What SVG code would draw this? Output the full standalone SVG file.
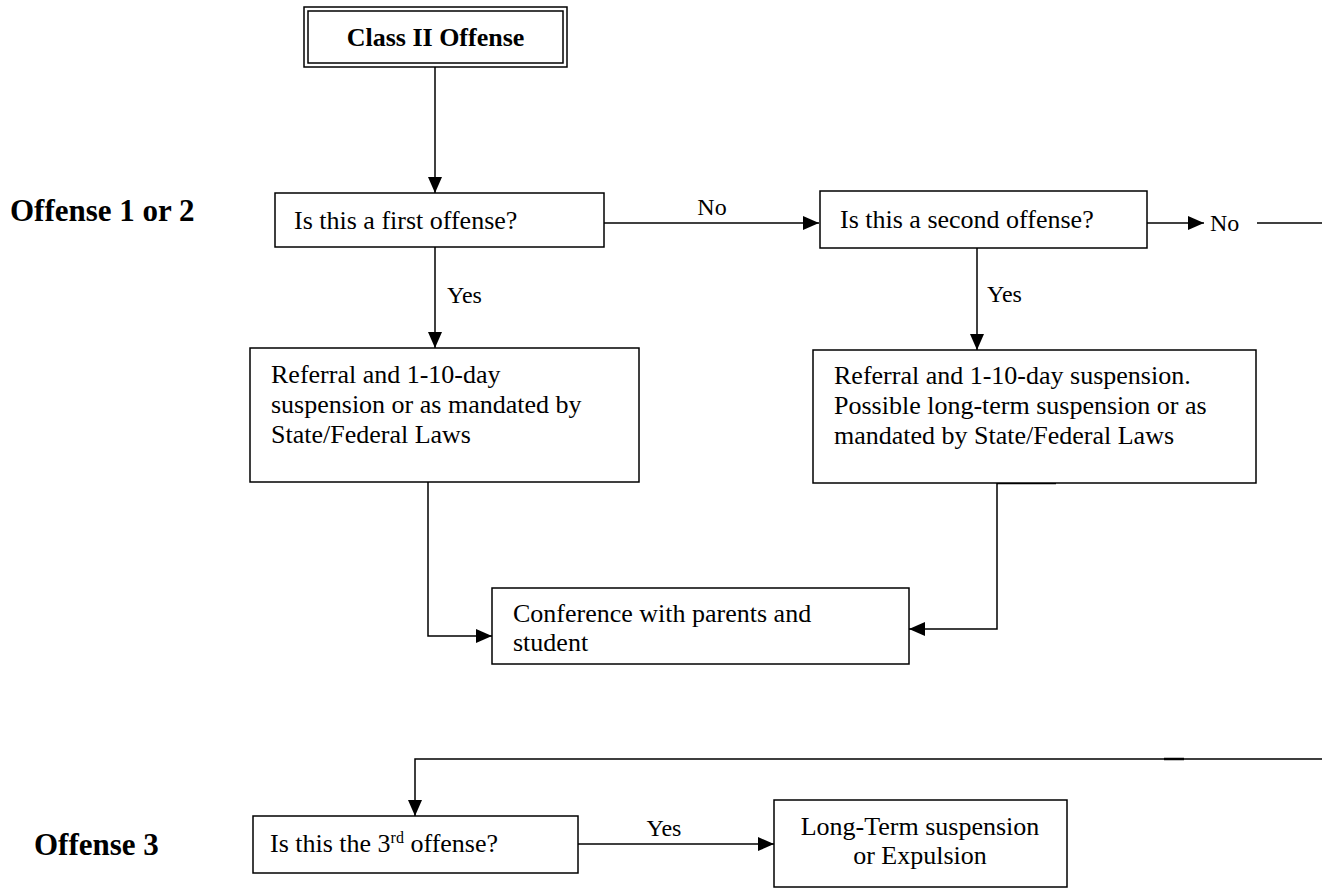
<svg xmlns="http://www.w3.org/2000/svg" width="1322" height="894" viewBox="0 0 1322 894">
<style>
.box{fill:#fff;stroke:#000;stroke-width:1.5}
.t{font-family:"Liberation Serif","Times New Roman",serif;font-size:26px;fill:#000}
.lbl{font-family:"Liberation Serif","Times New Roman",serif;font-size:24px;fill:#000}
.h{font-family:"Liberation Serif","Times New Roman",serif;font-weight:bold;fill:#000}
.c{fill:none;stroke:#000;stroke-width:1.5}
</style>
<defs>
<marker id="ah" markerWidth="16" markerHeight="14" refX="16" refY="7" orient="auto" markerUnits="userSpaceOnUse"><path d="M0,0 L16,7 L0,14 z" fill="#000"/></marker>
</defs>
<rect width="1322" height="894" fill="#fff"/>

<g id="labels">
<text class="h" x="10" y="221" font-size="31">Offense 1 or 2</text>
<text class="h" x="34" y="855" font-size="31">Offense 3</text>
</g>

<g id="connectors">
<line class="c" x1="435" y1="67" x2="435" y2="193" marker-end="url(#ah)"/>
<line class="c" x1="604" y1="223" x2="819" y2="223" marker-end="url(#ah)"/>
<text class="lbl" x="712" y="215" text-anchor="middle">No</text>
<line class="c" x1="1147" y1="223" x2="1204" y2="223" marker-end="url(#ah)"/>
<text class="lbl" x="1210" y="231">No</text>
<line class="c" x1="1257" y1="223" x2="1322" y2="223"/>
<line class="c" x1="435" y1="247" x2="435" y2="348" marker-end="url(#ah)"/>
<text class="lbl" x="447" y="303">Yes</text>
<line class="c" x1="977" y1="248" x2="977" y2="350" marker-end="url(#ah)"/>
<text class="lbl" x="987" y="302">Yes</text>
<polyline class="c" points="428,482 428,636 492,636" marker-end="url(#ah)"/>
<polyline class="c" points="997,483 997,629 909,629" marker-end="url(#ah)"/>
<line x1="997" y1="483" x2="1056" y2="483" stroke="#000" stroke-width="2.5"/>
<polyline class="c" points="1322,759 415,759 415,816" marker-end="url(#ah)"/>
<line x1="1164" y1="759" x2="1184" y2="759" stroke="#000" stroke-width="2.5"/>
<line class="c" x1="578" y1="844" x2="774" y2="844" marker-end="url(#ah)"/>
<text class="lbl" x="664" y="836" text-anchor="middle">Yes</text>
</g>

<g id="class2">
<rect x="304" y="7" width="263" height="60" fill="#fff" stroke="#000" stroke-width="1.5"/>
<rect x="308" y="11" width="255" height="52" fill="none" stroke="#000" stroke-width="1.5"/>
<text class="h" x="435.5" y="46" font-size="26" text-anchor="middle">Class II Offense</text>
</g>

<g id="first">
<rect class="box" x="275" y="193" width="329" height="54"/>
<text class="t" x="294" y="229">Is this a first offense?</text>
</g>

<g id="second">
<rect class="box" x="820" y="191" width="327" height="57"/>
<text class="t" x="840" y="228">Is this a second offense?</text>
</g>

<g id="ref1">
<rect class="box" x="250" y="348" width="389" height="134"/>
<text class="t" x="271" y="383">Referral and 1-10-day</text>
<text class="t" x="271" y="413">suspension or as mandated by</text>
<text class="t" x="271" y="443">State/Federal Laws</text>
</g>

<g id="ref2">
<rect class="box" x="813" y="350" width="443" height="133"/>
<text class="t" x="834" y="384">Referral and 1-10-day suspension.</text>
<text class="t" x="834" y="414">Possible long-term suspension or as</text>
<text class="t" x="834" y="444">mandated by State/Federal Laws</text>
</g>

<g id="conference">
<rect class="box" x="492" y="588" width="417" height="76"/>
<text class="t" x="513" y="622">Conference with parents and</text>
<text class="t" x="513" y="651">student</text>
</g>

<g id="third">
<rect class="box" x="253" y="816" width="325" height="57"/>
<text class="t" x="270" y="852">Is this the 3<tspan font-size="16" dy="-9">rd</tspan><tspan dy="9"> offense?</tspan></text>
</g>

<g id="longterm">
<rect class="box" x="774" y="800" width="293" height="87"/>
<text class="t" x="920" y="835" text-anchor="middle">Long-Term suspension</text>
<text class="t" x="920" y="864" text-anchor="middle">or Expulsion</text>
</g>
</svg>
